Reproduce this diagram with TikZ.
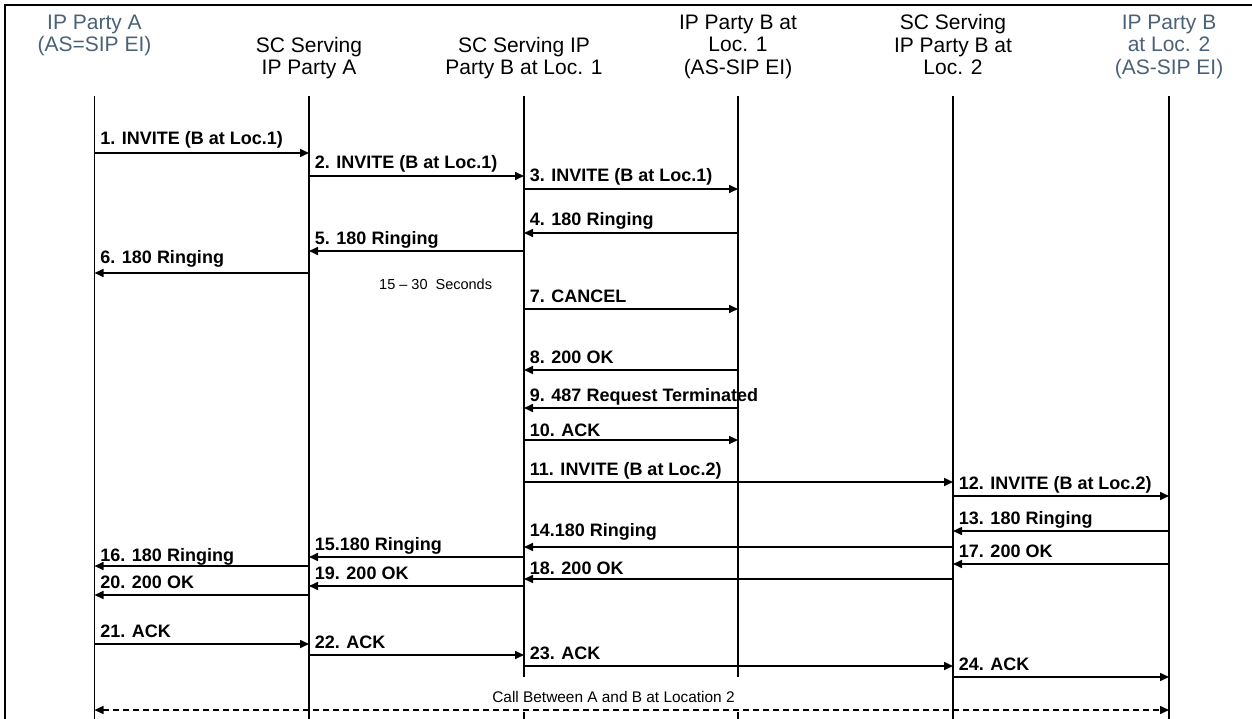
\documentclass[tikz,border=0pt]{standalone}
\usepackage{fontspec}
\setmainfont{Liberation Sans}
\usetikzlibrary{arrows.meta}
\definecolor{endpt}{HTML}{4A6178}
\newcommand{\hdfont}{\fontsize{21}{22.5}\selectfont}
\newcommand{\lblfont}{\fontsize{18}{20}\selectfont\bfseries}
\newcommand{\notefont}{\fontsize{14.5}{16}\selectfont}

\begin{document}
\begin{tikzpicture}[
  x=1pt, y=-1pt,
  head/.style={font=\hdfont, align=center, anchor=north, inner sep=0pt},
  life/.style={line width=1.3pt},
  msg/.style={-{Triangle[length=9pt,width=8pt]}, line width=1.6pt},
  lbl/.style={font=\lblfont, anchor=base west, inner sep=0pt,
              xshift=5pt, yshift=7pt},
  note/.style={font=\notefont, inner sep=0pt},
  call/.style={{Triangle[length=9pt,width=8pt]}-{Triangle[length=9pt,width=8pt]},
               line width=1.5pt, dash pattern=on 6pt off 4pt}
]
  \useasboundingbox (0,0) rectangle (1252,719);
  \draw[line width=2pt] (4.5,719) -- (4.5,5) -- (1252,5);

  \node[head, text=endpt] (hA) at (94.5,14.5) {IP Party A\\(AS=SIP EI)};
  \node[head] (hSA) at (309,37) {SC Serving\\IP Party A};
  \node[head] (hSB1) at (524,37) {SC Serving IP\\Party B at Loc. 1};
  \node[head] (hB1) at (738,14.5) {IP Party B at\\Loc. 1\\(AS-SIP EI)};
  \node[head] (hSB2) at (953,14.5) {SC Serving\\IP Party B at\\Loc. 2};
  \node[head, text=endpt] (hB2) at (1169,14.5) {IP Party B\\at Loc. 2\\(AS-SIP EI)};

  \coordinate (lA) at (94.5,96);
  \coordinate (lSA) at (309,96);
  \coordinate (lSB1) at (524,96);
  \coordinate (lB1) at (738,96);
  \coordinate (lSB2) at (953,96);
  \coordinate (lB2) at (1169,96);

  \draw[life] (lA) -- (lA |- 0,719);
  \draw[life] (lSA) -- (lSA |- 0,719);
  \draw[life] (lSB1) -- (lSB1 |- 0,677);
  \draw[life] (lSB1 |- 0,712) -- (lSB1 |- 0,719);
  \draw[life] (lB1) -- (lB1 |- 0,677);
  \draw[life] (lB1 |- 0,712) -- (lB1 |- 0,719);
  \draw[life] (lSB2) -- (lSB2 |- 0,719);
  \draw[life] (lB2) -- (lB2 |- 0,719);

  \draw[msg] (lA |- 0,153) -- (lSA |- 0,153) node[lbl, pos=0, yshift=1.5pt] {1. INVITE (B at Loc.1)};
  \draw[msg] (lSA |- 0,176) -- (lSB1 |- 0,176) node[lbl, pos=0] {2. INVITE (B at Loc.1)};
  \draw[msg] (lSB1 |- 0,189) -- (lB1 |- 0,189) node[lbl, pos=0] {3. INVITE (B at Loc.1)};
  \draw[msg] (lB1 |- 0,233) -- (lSB1 |- 0,233) node[lbl, pos=1] {4. 180 Ringing};
  \draw[msg] (lSB1 |- 0,251) -- (lSA |- 0,251) node[lbl, pos=1] {5. 180 Ringing};
  \draw[msg] (lSA |- 0,273) -- (lA |- 0,273) node[lbl, pos=1, yshift=2.5pt] {6. 180 Ringing};
  \node[note, anchor=base west] (wait) at (379,289) {15 – 30\ \ Seconds};
  \draw[msg] (lSB1 |- 0,309) -- (lB1 |- 0,309) node[lbl, pos=0] {7. CANCEL};
  \draw[msg] (lB1 |- 0,370) -- (lSB1 |- 0,370) node[lbl, pos=1] {8. 200 OK};
  \draw[msg] (lB1 |- 0,408) -- (lSB1 |- 0,408) node[lbl, pos=1] {9. 487 Request Terminated};
  \draw[msg] (lSB1 |- 0,440) -- (lB1 |- 0,440) node[lbl, pos=0, yshift=-3.5pt] {10. ACK};
  \draw[msg] (lSB1 |- 0,482) -- (lSB2 |- 0,482) node[lbl, pos=0] {11. INVITE (B at Loc.2)};
  \draw[msg] (lSB2 |- 0,496) -- (lB2 |- 0,496) node[lbl, pos=0] {12. INVITE (B at Loc.2)};
  \draw[msg] (lB2 |- 0,531) -- (lSB2 |- 0,531) node[lbl, pos=1] {13. 180 Ringing};
  \draw[msg] (lSB2 |- 0,547) -- (lSB1 |- 0,547) node[lbl, pos=1, yshift=3.5pt] {14.180 Ringing};
  \draw[msg] (lSB1 |- 0,557) -- (lSA |- 0,557) node[lbl, pos=1] {15.180 Ringing};
  \draw[msg] (lSA |- 0,566) -- (lA |- 0,566) node[lbl, pos=1, yshift=-2pt] {16. 180 Ringing};
  \draw[msg] (lB2 |- 0,564) -- (lSB2 |- 0,564) node[lbl, pos=1] {17. 200 OK};
  \draw[msg] (lSB2 |- 0,579) -- (lSB1 |- 0,579) node[lbl, pos=1, yshift=-2pt] {18. 200 OK};
  \draw[msg] (lSB1 |- 0,586) -- (lSA |- 0,586) node[lbl, pos=1] {19. 200 OK};
  \draw[msg] (lSA |- 0,595) -- (lA |- 0,595) node[lbl, pos=1] {20. 200 OK};
  \draw[msg] (lA |- 0,644) -- (lSA |- 0,644) node[lbl, pos=0] {21. ACK};
  \draw[msg] (lSA |- 0,655) -- (lSB1 |- 0,655) node[lbl, pos=0] {22. ACK};
  \draw[msg] (lSB1 |- 0,666) -- (lSB2 |- 0,666) node[lbl, pos=0] {23. ACK};
  \draw[msg] (lSB2 |- 0,677) -- (lB2 |- 0,677) node[lbl, pos=0] {24. ACK};

  \node[note, font=\fontsize{15.4}{17}\selectfont, anchor=base] (callnote) at (613.5,702.5) {Call Between A and B at Location 2};
  \draw[call] (lA |- 0,710) -- (lB2 |- 0,710);
\end{tikzpicture}
\end{document}
